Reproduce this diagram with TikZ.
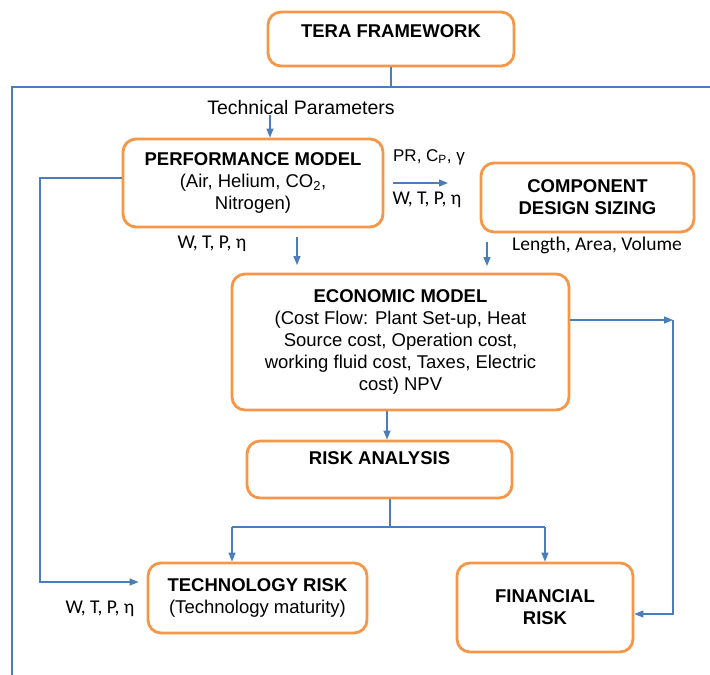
\documentclass[tikz,border=0pt]{standalone}
\usepackage{fontspec}
\setmainfont{Liberation Sans}
\newfontfamily\calfont{Carlito}
\usetikzlibrary{arrows.meta,calc}
\definecolor{boxorange}{HTML}{F79646}
\definecolor{linkblue}{HTML}{4A7EBB}
\begin{document}
\begin{tikzpicture}[x=1pt,y=-1pt,
  box/.style={draw=boxorange, line width=2.8pt, rounded corners=13pt, align=center,
    inner sep=0pt, font=\fontsize{18.5}{22}\selectfont},
  link/.style={draw=linkblue, line width=1.3pt},
  arr/.style={link, -{Triangle[length=9pt,width=7pt]}},
  lbl/.style={inner sep=0pt, font=\fontsize{19.5}{22}\selectfont},
  small/.style={inner sep=0pt, font=\fontsize{17}{20}\selectfont},
  cal/.style={inner sep=0pt, font=\calfont\fontsize{19.5}{22}\selectfont}]
\useasboundingbox (0,0) rectangle (710,675);

% boxes
\node[box, minimum width=246, minimum height=54] (tera) at (391,39)
  {\textbf{TERA FRAMEWORK}\\[-12pt]\strut};
\node[box, minimum width=260, minimum height=88] (perf) at (253,183)
  {\textbf{PERFORMANCE MODEL}\\(Air, Helium, CO\textsubscript{2},\\Nitrogen)};
\node[box, minimum width=213, minimum height=69] (comp) at (587.5,197.5)
  {\textbf{COMPONENT}\\\textbf{DESIGN SIZING}};
\node[box, minimum width=337, minimum height=136] (econ) at (400.5,342)
  {\textbf{ECONOMIC MODEL}\\(Cost Flow: Plant Set-up, Heat\\Source cost, Operation cost,\\
   working fluid cost, Taxes, Electric\\cost) NPV};
\node[box, minimum width=265, minimum height=57] (risk) at (379.5,469.5)
  {\textbf{RISK ANALYSIS}\\[-6pt]\strut};
\node[box, minimum width=219, minimum height=70] (tech) at (257.5,598)
  {\textbf{TECHNOLOGY RISK}\\(Technology maturity)};
\node[box, minimum width=176, minimum height=89] (fin) at (545,607.5)
  {\textbf{FINANCIAL}\\\textbf{RISK}};

% labels
\node[lbl] (tp) at (301,108) {Technical Parameters};
\node[small] (prlbl) at (429,157) {PR, C\textsubscript{P}, γ};
\node[cal] (wtp1) at (427,200) {W, T, P, η};
\node[cal] (wtp2) at (212,244) {W, T, P, η};
\node[cal] (lav) at (597,245) {Length, Area, Volume};
\node[cal] (wtp3) at (100,609) {W, T, P, η};

% guide coordinates
\coordinate (topbar) at (391,87);
\coordinate (lefttop) at (12,87);
\coordinate (leftbot) at (12,675);
\coordinate (rightend) at (710,87);
\coordinate (tpx) at (270,0);
\coordinate (feedx) at (40,0);
\coordinate (pa) at (393,183);
\coordinate (pb) at (448,183);
\coordinate (da) at (297,237);
\coordinate (db) at (297,265);
\coordinate (ca) at (487,242);
\coordinate (cb) at (487,266);
\coordinate (rx) at (673,0);
\coordinate (ex) at (387,0);
\coordinate (splity) at (0,527);
\coordinate (techx) at (232,0);

% framework frame
\draw[link] (tera.south) -- (topbar);
\draw[link] (leftbot) -- (lefttop) -- (rightend);

% connectors
\draw[arr] (tp.south -| tpx) -- (perf.north -| tpx);
\draw[arr] ($(perf.west)+(0,-5)$) -- ($(perf.west -| feedx)+(0,-5)$)
  -- ($(tech.west -| feedx)+(0,-16)$) -- ($(tech.west)+(-8,-16)$);
\draw[arr] (pa) -- (pb);
\draw[arr] (da) -- (db);
\draw[arr] (ca) -- (cb);
\draw[arr] ($(econ.east)+(0,-22)$) -- ($(econ.east -| rx)+(0,-22)$);
\draw[arr] ($(econ.east -| rx)+(0,-22)$) -- ($(fin.east -| rx)+(0,6.5)$) -- ($(fin.east)+(0,6.5)$);
\draw[arr] (econ.south -| ex) -- (risk.north -| ex);
\draw[link] ($(risk.south)+(10.5,0)$) -- ($(splity -| risk.south)+(10.5,0)$);
\draw[arr] (splity -| techx) -- (tech.north -| techx);
\draw[link] (splity -| techx) -- (splity -| fin.north);
\draw[arr] (splity -| fin.north) -- (fin.north);
\end{tikzpicture}
\end{document}
